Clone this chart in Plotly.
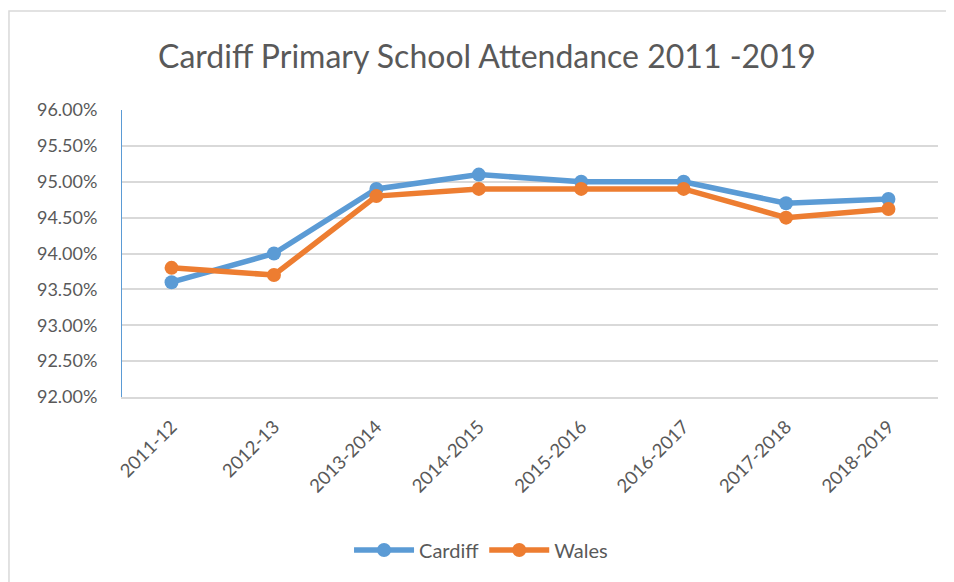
import plotly.graph_objects as go

years = ['2011-12', '2012-13', '2013-2014', '2014-2015', '2015-2016',
         '2016-2017', '2017-2018', '2018-2019']
cardiff = [93.6, 94.0, 94.9, 95.1, 95.0, 95.0, 94.7, 94.76]
wales = [93.8, 93.7, 94.8, 94.9, 94.9, 94.9, 94.5, 94.62]
y_ticks = [92.0, 92.5, 93.0, 93.5, 94.0, 94.5, 95.0, 95.5, 96.0]

font_name = 'Lato, Open Sans, sans-serif'
grey_text = '#595959'

fig = go.Figure()

# Cardiff series
fig.add_trace(go.Scatter(
    x=years, y=cardiff, name='Cardiff', mode='lines+markers',
    line=dict(color='#5B9BD5', width=5.5),
    marker=dict(color='#5B9BD5', size=14),
))

# Wales series
fig.add_trace(go.Scatter(
    x=years, y=wales, name='Wales', mode='lines+markers',
    line=dict(color='#ED7D31', width=5.5),
    marker=dict(color='#ED7D31', size=14),
))

# page body adds an 8px offset, so margins are shifted by 8px
fig.update_layout(
    width=954, height=582,
    margin=dict(l=114, r=24, t=102, b=193),
    paper_bgcolor='white',
    plot_bgcolor='white',
    font=dict(family=font_name, color=grey_text, size=16),
    title=dict(
        text='Cardiff Primary School Attendance 2011 -2019',
        x=0.502, xanchor='center', y=0.916, yanchor='middle',
        font=dict(size=32, color=grey_text, family=font_name),
    ),
    xaxis=dict(
        type='category', automargin=False,
        tickangle=-45, showgrid=False,
        showline=True, linecolor='#D9D9D9', linewidth=1.5,
        ticks='', ticklabelstandoff=10,
        tickfont=dict(size=18.5, color=grey_text),
    ),
    yaxis=dict(
        automargin=False,
        range=[92, 96], tickvals=y_ticks,
        ticktext=[f'{v:.2f}%' for v in y_ticks],
        showgrid=True, gridcolor='#D9D9D9', gridwidth=1.5,
        showline=True, linecolor='#5B9BD5', linewidth=1,
        zeroline=False, ticks='', ticklabelstandoff=20,
        tickfont=dict(size=18, color=grey_text),
    ),
    legend=dict(
        orientation='h', x=0.44, xanchor='center',
        y=-0.533, yanchor='middle',
        font=dict(size=20, color=grey_text),
        itemwidth=60, tracegroupgap=30,
    ),
    showlegend=True,
)

# outer chart border (Excel style)
fig.add_shape(
    type='rect', xref='paper', yref='paper',
    x0=-0.1385, x1=1.05, y0=-0.75, y1=1.345,
    line=dict(color='#D9D9D9', width=1.5),
    fillcolor='rgba(0,0,0,0)', layer='below',
)

fig.write_html('out.html')
